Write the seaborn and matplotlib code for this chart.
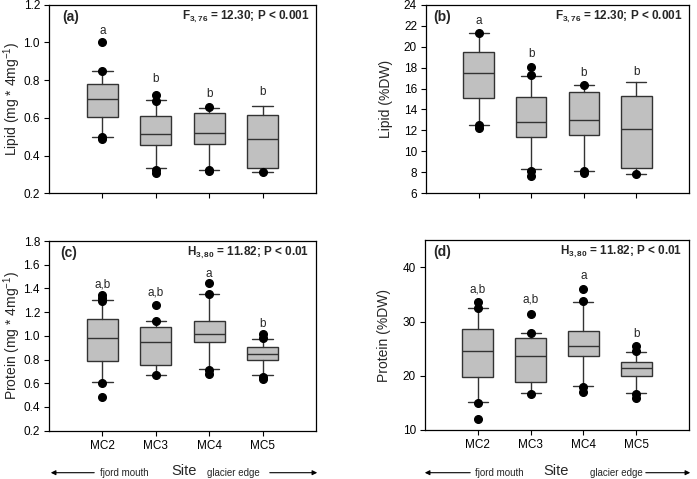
import matplotlib
matplotlib.use("Agg")
import matplotlib.pyplot as plt
import seaborn as sns
import numpy as np

# ---------------- data ----------------
sites = ["MC2", "MC3", "MC4", "MC5"]

# (a) Lipid (mg * 4mg-1)
lipid_mg_whislo = [0.50, 0.333, 0.324, 0.313]
lipid_mg_q1 = [0.603, 0.454, 0.46, 0.334]
lipid_mg_med = [0.70, 0.513, 0.52, 0.486]
lipid_mg_q3 = [0.778, 0.608, 0.626, 0.613]
lipid_mg_whishi = [0.848, 0.693, 0.654, 0.665]
lipid_mg_fliers = [[1.0, 0.85, 0.50, 0.49], [0.72, 0.69, 0.324, 0.306],
                   [0.655, 0.325, 0.32], [0.313]]
lipid_mg_letters = ["a", "b", "b", "b"]
lipid_mg_letter_y = [1.062, 0.806, 0.725, 0.735]

# (b) Lipid (%DW)
lipid_dw_whislo = [12.55, 8.29, 8.16, 7.84]
lipid_dw_q1 = [15.13, 11.37, 11.53, 8.38]
lipid_dw_med = [17.51, 12.84, 13.0, 12.17]
lipid_dw_q3 = [19.48, 15.16, 15.67, 15.32]
lipid_dw_whishi = [21.26, 17.19, 16.30, 16.65]
lipid_dw_fliers = [[21.26, 12.55, 12.23], [18.05, 17.29, 8.16, 7.68],
                   [16.33, 8.1, 7.94], [7.84]]
lipid_dw_letters = ["a", "b", "b", "b"]
lipid_dw_letter_y = [22.47, 19.26, 17.45, 17.6]

# (c) Protein (mg * 4mg-1)
prot_mg_whislo = [0.607, 0.671, 0.719, 0.669]
prot_mg_q1 = [0.784, 0.753, 0.945, 0.796]
prot_mg_med = [0.982, 0.945, 1.019, 0.849]
prot_mg_q3 = [1.143, 1.075, 1.126, 0.903]
prot_mg_whishi = [1.30, 1.123, 1.352, 0.973]
prot_mg_fliers = [[1.346, 1.323, 1.295, 0.60, 0.482], [1.256, 1.123, 0.666],
                  [1.442, 1.352, 0.714, 0.68], [1.019, 0.979, 0.657, 0.632]]
prot_mg_letters = ["a,b", "a,b", "a", "b"]
prot_mg_letter_y = [1.433, 1.363, 1.518, 1.10]

# (d) Protein (%DW)
prot_dw_whislo = [15.1, 16.89, 18.12, 16.83]
prot_dw_q1 = [19.72, 18.86, 23.6, 19.9]
prot_dw_med = [24.52, 23.66, 25.5, 21.38]
prot_dw_q3 = [28.58, 26.98, 28.2, 22.6]
prot_dw_whishi = [32.46, 27.97, 33.69, 24.34]
prot_dw_fliers = [[33.63, 32.46, 14.98, 12.09], [31.42, 27.97, 16.7],
                  [35.97, 33.8, 17.88, 17.0], [25.5, 24.6, 16.6, 15.9]]
prot_dw_letters = ["a,b", "a,b", "a", "b"]
prot_dw_letter_y = [35.97, 34.0, 38.4, 27.7]

# ---------------- style ----------------
sns.set_style("ticks")
plt.rcParams["font.family"] = ["Liberation Sans", "DejaVu Sans"]
plt.rcParams["mathtext.fontset"] = "custom"
plt.rcParams["mathtext.rm"] = "Liberation Sans"
plt.rcParams["mathtext.bf"] = "Liberation Sans:bold"
plt.rcParams["mathtext.it"] = "Liberation Sans:italic"

fig = plt.figure(figsize=(6.97, 4.79), dpi=100)
W, H = 697.0, 479.0


def axes_px(left, top, right, bottom):
    return fig.add_axes([left / W, 1 - bottom / H, (right - left) / W, (bottom - top) / H])


panels = [
    dict(rect=(49, 4.7, 316, 193.3), lo=lipid_mg_whislo, q1=lipid_mg_q1, med=lipid_mg_med,
         q3=lipid_mg_q3, hi=lipid_mg_whishi, fl=lipid_mg_fliers, let=lipid_mg_letters,
         lety=lipid_mg_letter_y, ylim=(0.2, 1.2), yticks=np.arange(0.2, 1.21, 0.2), fmt="{:.1f}",
         ylabel=r"Lipid (mg * 4mg$^{\mathrm{-1}}$)", tag="(a)",
         stat=r"F$_{\mathbf{3,76}}$ = 12.30; P < 0.001", lab_x=-0.098, tagdx=13, xt=False),
    dict(rect=(426, 4.7, 689, 193.3), lo=lipid_dw_whislo, q1=lipid_dw_q1, med=lipid_dw_med,
         q3=lipid_dw_q3, hi=lipid_dw_whishi, fl=lipid_dw_fliers, let=lipid_dw_letters,
         lety=lipid_dw_letter_y, ylim=(6, 24), yticks=np.arange(6, 24.1, 2), fmt="{:.0f}",
         ylabel="Lipid (%DW)", tag="(b)",
         stat=r"F$_{\mathbf{3,76}}$ = 12.30; P < 0.001", lab_x=-0.125, tagdx=7, xt=False),
    dict(rect=(49, 241, 316, 430.7), lo=prot_mg_whislo, q1=prot_mg_q1, med=prot_mg_med,
         q3=prot_mg_q3, hi=prot_mg_whishi, fl=prot_mg_fliers, let=prot_mg_letters,
         lety=prot_mg_letter_y, ylim=(0.2, 1.8), yticks=np.arange(0.2, 1.81, 0.2), fmt="{:.1f}",
         ylabel=r"Protein (mg * 4mg$^{\mathrm{-1}}$)", tag="(c)",
         stat=r"H$_{\mathbf{3,80}}$ = 11.82; P < 0.01", lab_x=-0.098, tagdx=11, xt=True),
    dict(rect=(425, 240.3, 689, 430), lo=prot_dw_whislo, q1=prot_dw_q1, med=prot_dw_med,
         q3=prot_dw_q3, hi=prot_dw_whishi, fl=prot_dw_fliers, let=prot_dw_letters,
         lety=prot_dw_letter_y, ylim=(10, 45), yticks=np.arange(10, 41, 10), fmt="{:.0f}",
         ylabel="Protein (%DW)", tag="(d)",
         stat=r"H$_{\mathbf{3,80}}$ = 11.82; P < 0.01", lab_x=-0.13, tagdx=8, xt=True),
]

box_face = "#c0c0c0"
edge = "#333333"

for p in panels:
    ax = axes_px(*p["rect"])
    stats = []
    for i, s in enumerate(sites):
        stats.append(dict(label=s, whislo=p["lo"][i], q1=p["q1"][i], med=p["med"][i],
                          q3=p["q3"][i], whishi=p["hi"][i], fliers=p["fl"][i]))
    ax.bxp(stats, positions=[1, 2, 3, 4], widths=0.58, patch_artist=True,
           boxprops=dict(facecolor=box_face, edgecolor=edge, linewidth=1.0),
           medianprops=dict(color=edge, linewidth=1.0),
           whiskerprops=dict(color=edge, linewidth=1.0),
           capprops=dict(color=edge, linewidth=1.0), capwidths=0.38,
           flierprops=dict(marker="o", markerfacecolor="black", markeredgecolor="black",
                           markersize=5.5, linestyle="none"))
    ax.set_xlim(0, 5)
    ax.set_ylim(*p["ylim"])
    ax.set_yticks(p["yticks"])
    ax.set_yticklabels([p["fmt"].format(v) for v in p["yticks"]])
    ax.set_xticks([1, 2, 3, 4])
    if p["xt"]:
        ax.set_xticklabels(sites)
    else:
        ax.set_xticklabels([])
    for sp in ax.spines.values():
        sp.set_visible(True)
        sp.set_linewidth(0.9)
        sp.set_color("black")
    ax.tick_params(axis="both", direction="out", length=3.5, width=0.8, labelsize=8.5,
                   colors="black", pad=3, top=False, right=False)
    ax.set_ylabel(p["ylabel"], fontsize=10)
    ax.yaxis.set_label_coords(p["lab_x"], 0.5)
    for i, (t, y) in enumerate(zip(p["let"], p["lety"])):
        ax.text(i + 1, y, t, ha="center", va="center", fontsize=8.5)
    ax.annotate(p["tag"], xy=(0, 1), xycoords="axes fraction", xytext=(p["tagdx"], -12),
                textcoords="offset pixels", ha="left", va="center", fontsize=10,
                fontweight="bold")
    ax.annotate(p["stat"], xy=(1, 1), xycoords="axes fraction", xytext=(-7, -12),
                textcoords="offset pixels", ha="right", va="center", fontsize=8.5,
                fontweight="bold")

# bottom annotations (figure pixel coordinates, origin top-left converted)
def fy(y):
    return H - y

for (a1, a2, ftxt, site_x, gtxt, b1, b2) in [
        (97, 48, 100, 184, 207, 267, 320),
        (473, 422, 475, 556, 590, 643, 693)]:
    y = fy(472.7)
    fig.add_artist(matplotlib.patches.FancyArrowPatch(
        (a1 / W, y / H), (a2 / W, y / H), transform=fig.transFigure,
        arrowstyle="-|>", mutation_scale=7, lw=0.8, color="black"))
    fig.text(ftxt / W, y / H, "fjord mouth", ha="left", va="center", fontsize=7)
    fig.text(site_x / W, fy(471) / H, "Site", ha="center", va="center", fontsize=10.5)
    fig.text(gtxt / W, y / H, "glacier edge", ha="left", va="center", fontsize=7)
    fig.add_artist(matplotlib.patches.FancyArrowPatch(
        (b1 / W, y / H), (b2 / W, y / H), transform=fig.transFigure,
        arrowstyle="-|>", mutation_scale=7, lw=0.8, color="black"))

fig.savefig("out.png", dpi=100)
